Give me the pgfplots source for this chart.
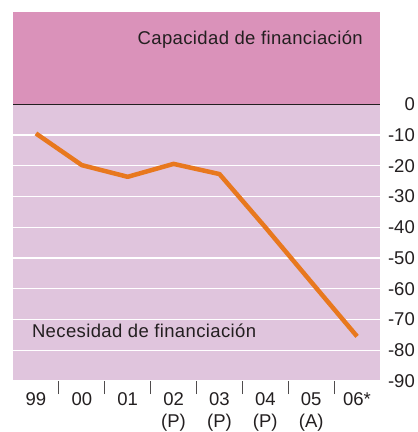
\documentclass[border=0pt]{standalone}
\usepackage{fontspec}
\setmainfont{Liberation Sans}
\newfontfamily\lblfont{Liberation Sans}[LetterSpace=2]
\usepackage{pgfplots}
\pgfplotsset{compat=1.18}

\definecolor{toppink}{RGB}{218,146,186}
\definecolor{lowpink}{RGB}{224,197,221}
\definecolor{lineorange}{RGB}{232,120,30}
\definecolor{txt}{RGB}{35,31,32}

\begin{document}
\begin{tikzpicture}
\begin{axis}[
    at={(13bp,51bp)}, anchor=south west,
    scale only axis,
    width=367bp, height=369bp,
    xmin=-0.5, xmax=7.5,
    ymin=-90, ymax=30,
    axis line style={draw=none},
    axis background/.style={fill=lowpink},
    font=\fontsize{18.5bp}{22.5bp}\selectfont,
    % categories
    xtick pos=bottom,
    xtick={0,...,7},
    xticklabels={99,00,01,{02\\(P)},{03\\(P)},{04\\(P)},{05\\(A)},06*},
    xticklabel style={align=center, anchor=north, inner sep=0pt, yshift=-11bp, text=txt},
    xtick style={draw=none},
    extra x ticks={0.5,1.5,...,6.5},
    extra x tick labels={},
    extra x tick style={
        xtick style={draw=txt!80, line width=0.8bp},
        major tick length=13bp,
        tick align=outside,
        xmajorgrids=false,
    },
    % values
    ytick={0,-10,...,-90},
    yticklabel pos=right,
    yticklabel style={anchor=east, inner sep=0pt, xshift=35bp, text=txt},
    ytick style={draw=none},
    /pgf/number format/assume math mode=true,
    ymajorgrids,
    grid style={white, line width=1.3bp},
    clip=false,
]
% upper band: capacidad de financiacion
\addplot[fill=toppink, draw=none] coordinates {(-0.5,0) (7.5,0) (7.5,30) (-0.5,30)} --cycle;
\addplot[txt, line width=0.9bp] coordinates {(-0.5,0) (7.5,0)};

\addplot[lineorange, line width=4.5bp, line join=round] coordinates {
    (0,-9.5) (1,-19.8) (2,-23.6) (3,-19.4) (4,-22.7) (5,-40.0) (6,-57.8) (7,-75.5)
};

\node[anchor=base east, inner sep=0pt, text=txt, font=\lblfont\fontsize{18.5bp}{22.5bp}\selectfont] at (axis cs:7.13,19.5) {Capacidad de financiación};
\node[anchor=base west, inner sep=0pt, text=txt, font=\lblfont\fontsize{18.5bp}{22.5bp}\selectfont] at (axis cs:-0.09,-75.8) {Necesidad de financiación};
\end{axis}
\pgfresetboundingbox
\path (0,0) rectangle (418bp,432bp);
\end{tikzpicture}
\end{document}
